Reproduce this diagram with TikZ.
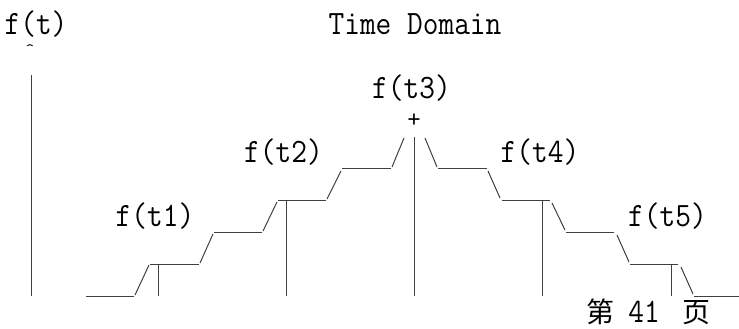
\documentclass[tikz,border=0pt]{standalone}
\usepackage{fontspec}
\usepackage{graphicx}
\newfontfamily\cjkfont{Noto Sans CJK SC}
\tikzset{
  stroke/.style={draw=black!75, line width=1pt, line cap=butt},
  lbl/.style={inner sep=0pt, anchor=base, font=\fontsize{30.5}{30.5}\selectfont\ttfamily},
}
\newcommand\tallx[1]{\scalebox{1}[1.12]{#1}}
\begin{document}
\begin{tikzpicture}[x=1pt,y=-1pt]
\useasboundingbox (0,0) rectangle (739,329);
% labels
\node[lbl] (ft)    at (36,35)    {\tallx{f(t)}};
\node[lbl] (title) at (415,35)   {\tallx{Time Domain}};
\node[inner sep=0pt, font=\fontsize{16}{16}\selectfont\ttfamily] (caret) at (30,50) {\textasciicircum};
\node[lbl] (ft3)   at (411.5,98) {\tallx{f(t3)}};
\node[inner sep=0pt, font=\fontsize{26}{26}\selectfont\ttfamily] (plus) at (414,120.5) {+};
\node[lbl] (ft2)   at (283.5,162){\tallx{f(t2)}};
\node[lbl] (ft4)   at (540,162)  {\tallx{f(t4)}};
\node[lbl] (ft1)   at (155,226)  {\tallx{f(t1)}};
\node[lbl] (ft5)   at (667.5,226){\tallx{f(t5)}};
\node[inner sep=0pt, anchor=base west] (page) at (585,322)
  {\makebox[30pt]{\cjkfont\fontsize{28}{28}\selectfont 第}\makebox[58pt]{\fontsize{30.5}{30.5}\selectfont\ttfamily\tallx{41}}\makebox[46pt]{\cjkfont\fontsize{28}{28}\selectfont 页}};
% axis
\draw[stroke] (31,75) -- (31,296);
% rising staircase
\draw[stroke] (86,296) -- (134,296);
\draw[stroke] (135,295) -- (149,265);
\draw[stroke] (150,264) -- (199,264);
\draw[stroke] (158,264) -- (158,296);
\draw[stroke] (200,263) -- (213,234);
\draw[stroke] (214,232) -- (262,232);
\draw[stroke] (263,231) -- (277,202);
\draw[stroke] (278,200) -- (326,200);
\draw[stroke] (286,200) -- (286,296);
\draw[stroke] (327,199) -- (341,171);
\draw[stroke] (342,168) -- (391,168);
\draw[stroke] (392,167) -- (404,138);
% peak
\draw[stroke] (414,137) -- (414,296);
% falling staircase
\draw[stroke] (425,138) -- (437,167);
\draw[stroke] (438,168) -- (487,168);
\draw[stroke] (488,171) -- (500,198);
\draw[stroke] (502,200) -- (550,200);
\draw[stroke] (542,200) -- (542,296);
\draw[stroke] (552,203) -- (565,230);
\draw[stroke] (566,232) -- (614,232);
\draw[stroke] (617,235) -- (629,262);
\draw[stroke] (630,264) -- (678,264);
\draw[stroke] (671,264) -- (671,296);
\draw[stroke] (681,267) -- (693,294);
\draw[stroke] (694,296) -- (739,296);
\end{tikzpicture}
\end{document}
